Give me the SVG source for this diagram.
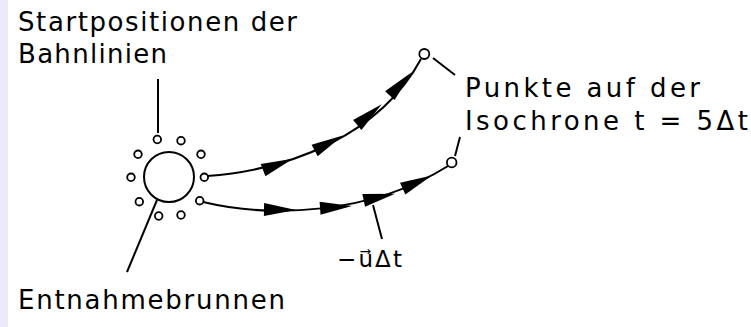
<svg xmlns="http://www.w3.org/2000/svg" width="751" height="327" viewBox="0 0 751 327">
<defs>
<style>
.t{font-family:"DejaVu Sans","Liberation Sans",sans-serif;font-size:26px;fill:#000}
.ln{fill:none;stroke:#000;stroke-width:2}
.sc{fill:#fff;stroke:#000;stroke-width:1.8}
.ah{fill:#000;stroke:none}
</style>
<polygon id="arr" points="1,0 -31,-6.5 -31,6.5"/>
</defs>
<rect x="0" y="0" width="751" height="327" fill="#fff"/>
<rect x="0" y="0" width="8" height="327" fill="#eaeafa"/>

<g id="connectors">
<line class="ln" x1="158" y1="79" x2="158" y2="133"/>
<line class="ln" x1="157" y1="200" x2="127" y2="272"/>
<line class="ln" x1="433" y1="58" x2="455" y2="75"/>
<line class="ln" x1="460" y1="137" x2="455" y2="156"/>
<line class="ln" x1="373" y1="205" x2="382" y2="239"/>
<path class="ln" d="M207,176 C290,170 380,135 421,59"/>
<path class="ln" d="M203,202 C270,218 370,215 448,166"/>
<g class="ah">
<use href="#arr" transform="translate(292,159) rotate(-21)"/>
<use href="#arr" transform="translate(342,136) rotate(-28)"/>
<use href="#arr" transform="translate(381,105) rotate(-40)"/>
<use href="#arr" transform="translate(411,73) rotate(-47)"/>
<use href="#arr" transform="translate(295,210) rotate(1)"/>
<use href="#arr" transform="translate(351,206) rotate(-4)"/>
<use href="#arr" transform="translate(394,194) rotate(-12)"/>
<use href="#arr" transform="translate(431,176) rotate(-24)"/>
</g>
</g>

<g id="well">
<circle cx="169" cy="177" r="25" fill="none" stroke="#000" stroke-width="2"/>
</g>
<g id="startpoints">
<circle class="sc" cx="157.3" cy="139.5" r="3.8"/>
<circle class="sc" cx="181" cy="140.7" r="3.8"/>
<circle class="sc" cx="138" cy="154.3" r="3.8"/>
<circle class="sc" cx="201" cy="154.3" r="3.8"/>
<circle class="sc" cx="131" cy="177.3" r="3.8"/>
<circle class="sc" cx="204.3" cy="177.3" r="3.8"/>
<circle class="sc" cx="139.3" cy="201.7" r="3.8"/>
<circle class="sc" cx="199.7" cy="200.7" r="3.8"/>
<circle class="sc" cx="158.7" cy="216" r="3.8"/>
<circle class="sc" cx="181" cy="215" r="3.8"/>
</g>
<g id="isochrone-points">
<circle class="sc" cx="424.3" cy="54" r="5"/>
<circle class="sc" cx="451.7" cy="162.5" r="4.8"/>
</g>

<g id="label-start">
<text class="t" x="18" y="31" textLength="279" lengthAdjust="spacing">Startpositionen der</text>
<text class="t" x="18" y="63" textLength="149" lengthAdjust="spacing">Bahnlinien</text>
</g>
<g id="label-punkte">
<text class="t" x="465" y="97" textLength="235" lengthAdjust="spacing">Punkte auf der</text>
<text class="t" x="465" y="130" textLength="283" lengthAdjust="spacing">Isochrone t = 5Δt</text>
</g>
<g id="label-well">
<text class="t" x="18" y="309" textLength="267" lengthAdjust="spacing">Entnahmebrunnen</text>
</g>
<g id="label-step">
<text class="t" x="337" y="267" style="font-size:23px" textLength="65" lengthAdjust="spacing">−u⃗Δt</text>
</g>
</svg>
